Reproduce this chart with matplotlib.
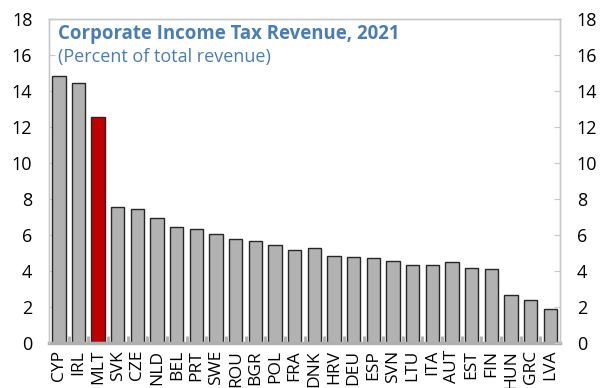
import numpy as np
import matplotlib.pyplot as plt
from matplotlib.ticker import MultipleLocator, FixedLocator

plt.rcParams['font.family'] = ['Open Sans', 'DejaVu Sans']

countries = ["CYP", "IRL", "MLT", "SVK", "CZE", "NLD", "BEL", "PRT", "SWE", "ROU",
             "BGR", "POL", "FRA", "DNK", "HRV", "DEU", "ESP", "SVN", "LTU", "ITA",
             "AUT", "EST", "FIN", "HUN", "GRC", "LVA"]
cit_share = [14.85, 14.45, 12.55, 7.55, 7.47, 6.92, 6.47, 6.34, 6.08, 5.77,
             5.66, 5.43, 5.19, 5.29, 4.82, 4.78, 4.72, 4.55, 4.33, 4.35,
             4.52, 4.17, 4.13, 2.65, 2.4, 1.89]
highlight = "MLT"

grey = "#B2B2B2"
red = "#C00000"
title_col = "#4A7EB0"
spine_col = "#C8C8C8"

fig = plt.figure(figsize=(6.02, 3.88), dpi=100)
ax = fig.add_axes([0.0814, 0.116, 0.849, 0.835])

x = np.arange(len(countries))
colors = [red if c == highlight else grey for c in countries]
ax.bar(x, cit_share, width=0.68, color=colors, edgecolor="#262626", linewidth=1.0, zorder=2)

ax.set_xlim(-0.5, len(countries) - 0.5)
ax.set_ylim(0, 18)
ax.yaxis.set_major_locator(MultipleLocator(2))

# right-hand duplicate axis
ax2 = ax.twinx()
ax2.set_ylim(0, 18)
ax2.yaxis.set_major_locator(MultipleLocator(2))

for a in (ax, ax2):
    for s in a.spines.values():
        s.set_color(spine_col)
        s.set_linewidth(1.0)
    a.tick_params(axis="y", direction="in", length=4, color=spine_col,
                  labelsize=13, pad=12)
ax.spines["bottom"].set_color("#AFAFAF")
ax.spines["bottom"].set_linewidth(2.5)
ax2.spines["bottom"].set_visible(False)

ax.set_xticks(x)
ax.set_xticklabels(countries, rotation=90, fontsize=12.5,
                   family=['Liberation Sans Narrow', 'Open Sans', 'DejaVu Sans'])
ax.tick_params(axis="x", length=0, pad=5)
ax.xaxis.set_minor_locator(FixedLocator(x[:-1] + 0.5))
ax.tick_params(axis="x", which="minor", direction="in", length=5, width=2, color="#AFAFAF")

ax.text(0.0176, 0.938, "Corporate Income Tax Revenue, 2021", transform=ax.transAxes,
        fontsize=13.4, fontweight="bold", color=title_col, va="baseline", ha="left")
ax.text(0.0176, 0.867, "(Percent of total revenue)", transform=ax.transAxes,
        fontsize=13, color=title_col, va="baseline", ha="left")

fig.savefig("out.png", dpi=100)
